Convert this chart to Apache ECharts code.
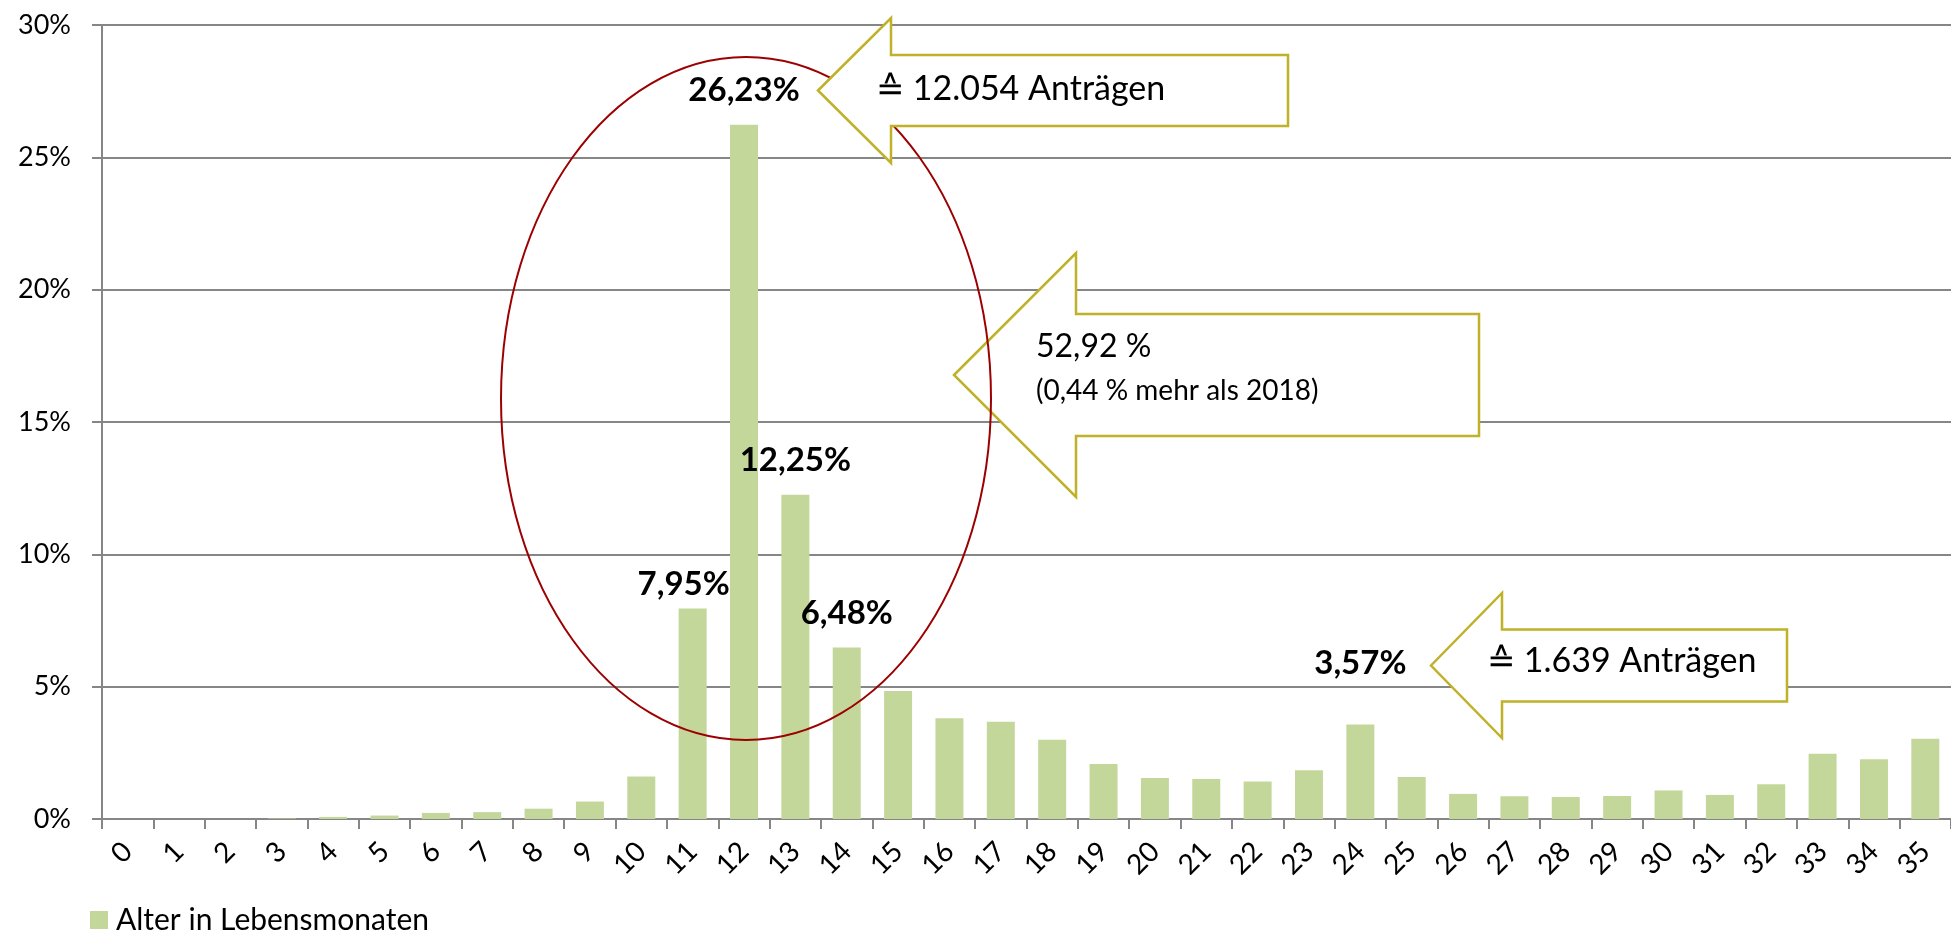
<!DOCTYPE html>
<html>
<head>
<meta charset="utf-8">
<script src="https://cdn.jsdelivr.net/npm/echarts@6/dist/echarts.min.js"></script>
<style>
  html, body { margin: 0; padding: 0; background: #fff; }
  #chart { width: 1951px; height: 936px; }
</style>
</head>
<body>
<div id="chart"></div>
<script>
// Alter in Lebensmonaten (0..35), Anteil der Anträge in %
const months = ['0', '1', '2', '3', '4', '5', '6', '7', '8', '9', '10', '11', '12', '13', '14', '15', '16', '17',
  '18', '19', '20', '21', '22', '23', '24', '25', '26', '27', '28', '29', '30', '31', '32', '33', '34', '35'];
const shares = [0, 0, 0, 0.02, 0.08, 0.13, 0.23, 0.26, 0.39, 0.66, 1.61, 7.95, 26.23, 12.25, 6.48, 4.84, 3.81, 3.67,
  2.99, 2.08, 1.55, 1.51, 1.42, 1.84, 3.57, 1.59, 0.95, 0.86, 0.83, 0.87, 1.08, 0.91, 1.31, 2.47, 2.26, 3.03];
const labeledMonths = ['11', '12', '13', '14', '24'];
const seriesName = 'Alter in Lebensmonaten';

// Texte der Hinweispfeile
const calloutTop = '≙ 12.054 Anträgen';
const calloutSum = '52,92 %';
const calloutSumNote = '(0,44 % mehr als 2018)';
const calloutRight = '≙ 1.639 Anträgen';

const FONT = 'Lato, "Open Sans", sans-serif';
const GRID_COLOR = '#868686';
const ARROW_COLOR = '#bfb128';

// a few labels were moved by hand in the original
const labelShift = { '11': [-9, 10], '24': [0, -27] };

function pct(v) {
  return v.toFixed(2).replace('.', ',') + '%';
}

const barData = shares.map((v, i) => {
  const m = months[i];
  if (labeledMonths.indexOf(m) < 0) return v;
  return {
    value: v,
    label: { show: true, offset: labelShift[m] || [0, 0] }
  };
});

// left pointing block arrow
function arrow(tipX, tipY, headX, headHalf, shaftHalf, rightX) {
  return [
    [tipX, tipY], [headX, tipY - headHalf], [headX, tipY - shaftHalf], [rightX, tipY - shaftHalf],
    [rightX, tipY + shaftHalf], [headX, tipY + shaftHalf], [headX, tipY + headHalf]
  ];
}

const chart = echarts.init(document.getElementById('chart'));
chart.setOption({
  animation: false,
  backgroundColor: '#fff',
  grid: { left: 102, right: -15, top: 25, bottom: 117 },
  legend: {
    data: [seriesName],
    left: 90,
    top: 905,
    padding: 0,
    icon: 'rect',
    itemWidth: 18,
    itemHeight: 18,
    itemGap: 8,
    textStyle: { fontFamily: FONT, fontSize: 30, color: '#000', padding: [0, 0, 0, 3] }
  },
  xAxis: {
    type: 'category',
    data: months,
    axisLine: { lineStyle: { color: GRID_COLOR, width: 2 } },
    axisTick: { show: true, length: 10, lineStyle: { color: GRID_COLOR, width: 2 } },
    axisLabel: { rotate: 45, interval: 0, margin: 28, fontFamily: FONT, fontSize: 28, color: '#000' },
    splitLine: { show: false }
  },
  yAxis: {
    type: 'value',
    min: 0,
    max: 30,
    interval: 5,
    axisLine: { show: true, lineStyle: { color: GRID_COLOR, width: 2 } },
    axisTick: { show: true, length: 10, lineStyle: { color: GRID_COLOR, width: 2 } },
    axisLabel: { formatter: '{value}%', margin: 31, fontFamily: FONT, fontSize: 27, color: '#000' },
    splitLine: { show: true, lineStyle: { color: GRID_COLOR, width: 2 } }
  },
  series: [{
    name: seriesName,
    type: 'bar',
    data: barData,
    barWidth: 28,
    itemStyle: { color: '#c4d79b' },
    label: {
      show: false,
      position: 'top',
      distance: 18,
      fontFamily: FONT,
      fontWeight: 'bold',
      fontSize: 33,
      color: '#000',
      formatter: p => pct(p.value)
    }
  }],
  graphic: [
    {
      type: 'polygon', z: 90,
      shape: { points: arrow(954, 375, 1076, 122, 61, 1479) },
      style: { fill: '#fff', stroke: ARROW_COLOR, lineWidth: 2.5 }
    },
    {
      type: 'ellipse', z: 100,
      shape: { cx: 746, cy: 398.5, rx: 245, ry: 341.5 },
      style: { fill: 'none', stroke: '#9c0000', lineWidth: 2 }
    },
    {
      type: 'polygon', z: 110,
      shape: { points: arrow(818, 90.5, 891, 72.5, 35.5, 1288) },
      style: { fill: '#fff', stroke: ARROW_COLOR, lineWidth: 2.5 }
    },
    {
      type: 'polygon', z: 110,
      shape: { points: arrow(1431, 665.5, 1502, 72.5, 36, 1787) },
      style: { fill: '#fff', stroke: ARROW_COLOR, lineWidth: 2.5 }
    },
    {
      type: 'text', z: 120, x: 876, y: 89,
      style: { text: calloutTop, font: '34px ' + FONT, fill: '#000', align: 'left', verticalAlign: 'middle' }
    },
    {
      type: 'text', z: 120, x: 1036, y: 347,
      style: { text: calloutSum, font: '32px ' + FONT, fill: '#000', align: 'left', verticalAlign: 'middle' }
    },
    {
      type: 'text', z: 120, x: 1036, y: 391,
      style: { text: calloutSumNote, font: '28px ' + FONT, fill: '#000', align: 'left', verticalAlign: 'middle' }
    },
    {
      type: 'text', z: 120, x: 1487, y: 661,
      style: { text: calloutRight, font: '34px ' + FONT, fill: '#000', align: 'left', verticalAlign: 'middle' }
    }
  ]
});
</script>
</body>
</html>
